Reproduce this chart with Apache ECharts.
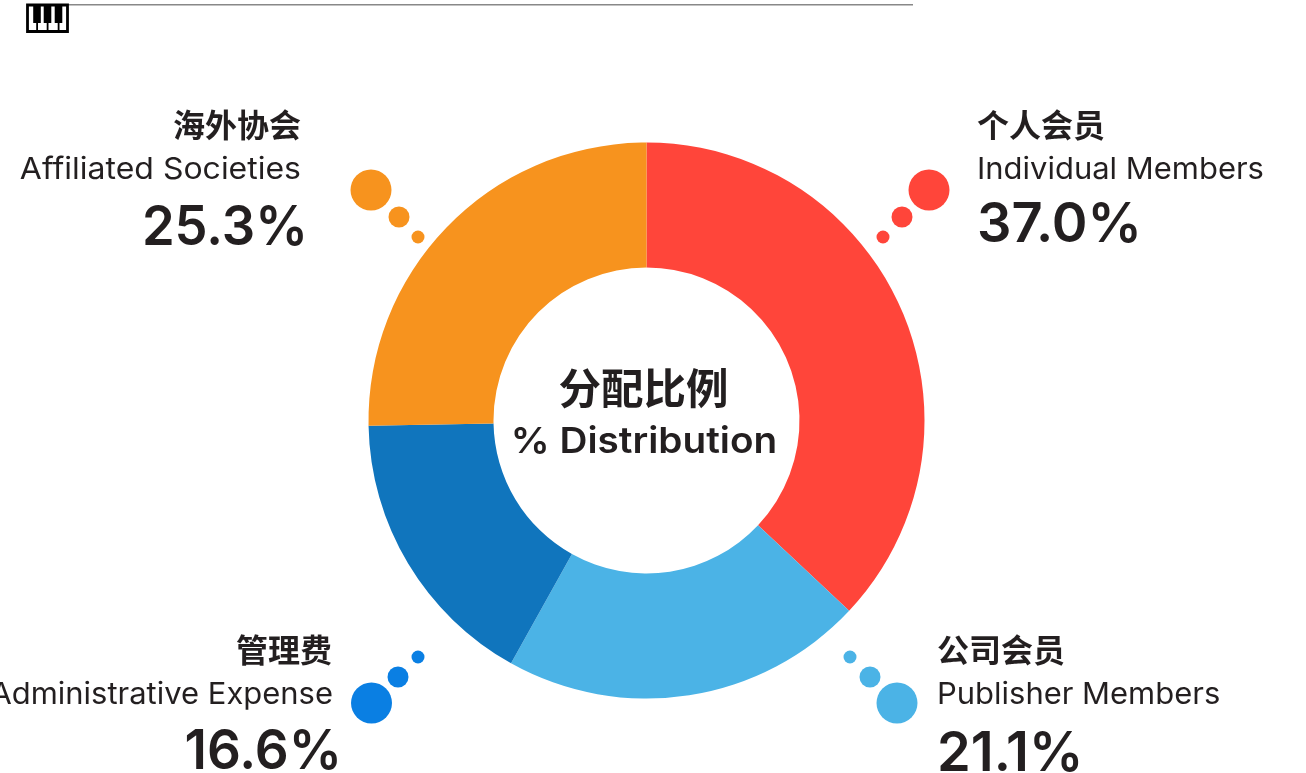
<!DOCTYPE html>
<html><head><meta charset="utf-8">
<style>html,body{margin:0;padding:0;background:#fff}#c{width:1306px;height:773px}</style>
<script src="https://cdn.jsdelivr.net/npm/echarts@6/dist/echarts.min.js"></script>
</head><body><div id="c"></div>
<script>
const namesZh = ['个人会员','公司会员','管理费','海外协会'];
const namesEn = ['Individual Members','Publisher Members','Administrative Expense','Affiliated Societies'];
const shares = [37.0,21.1,16.6,25.3];
const sliceColors = ['#FF453A','#4BB3E6','#1075BD','#F7931E'];
const dotColors = ['#FF453A','#4BB3E6','#0A7FE3','#F7931E'];
const centerZh = '分配比例';
const centerEn = '% Distribution';

const FONT = 'Inter, "Noto Sans CJK SC", sans-serif';
const ZH = '"Noto Sans CJK SC", sans-serif';
const INK = '#231F20';
const blocks = [
  {align:'left', x:[977,977,977], y:[125,170,225], sx:[1.032,0.985]},
  {align:'left', x:[937,937,937], y:[650,695,754], sx:[1.032,0.985]},
  {align:'right',x:[332,333,342], y:[650,695,752], sx:[1.032,0.965]},
  {align:'right',x:[301,301,308], y:[125,170,228], sx:[1.066,0.955]}
];
const dots = [
  [[929,190,20.5],[902,217,10.5],[883,237,6.5]],
  [[897,703,20.5],[870,677,10.5],[850,657,6.5]],
  [[371.5,703,20.5],[398,677,10.5],[418,657,6.5]],
  [[371,190,20.5],[399,217,10.5],[418,237,6.5]]
];
const g = [];
function txt(s,x,y,size,weight,align,family,scaleX){
  g.push({type:'text',silent:true,x,y,scaleX:scaleX||1,style:{text:s,fontSize:size,fontWeight:weight,fontFamily:family,fill:INK,align,verticalAlign:'middle'}});
}
shares.forEach((v,i)=>{
  const b=blocks[i];
  txt(namesZh[i],b.x[0],b.y[0],32,700,b.align,ZH);
  txt(namesEn[i],b.x[1],b.y[1],30,400,b.align,FONT,b.sx[0]);
  txt(v.toFixed(1)+'%',b.x[2],b.y[2],55,600,b.align,FONT,b.sx[1]);
  dots[i].forEach(d=>g.push({type:'circle',silent:true,shape:{cx:d[0],cy:d[1],r:d[2]},style:{fill:dotColors[i]}}));
});
txt(centerZh,643.5,388,42.5,700,'center',ZH);
txt(centerEn,644,442,36,600,'center',FONT,1.075);
// top rule and piano icon
g.push({type:'rect',silent:true,shape:{x:68,y:4,width:845,height:1.5},style:{fill:'#888'}});
g.push({type:'rect',silent:true,shape:{x:27.5,y:5,width:40,height:26.5},style:{fill:'#fff',stroke:'#000',lineWidth:2.8}});
[33.5,44,55].forEach(x=>g.push({type:'rect',silent:true,shape:{x:x-0.3,y:5,width:7.6,height:18},style:{fill:'#000'}}));
[36.2,46.7,57.7].forEach(x=>g.push({type:'rect',silent:true,shape:{x,y:22,width:1.8,height:9},style:{fill:'#000'}}));

const chart = echarts.init(document.getElementById('c'),null,{renderer:'canvas'});
chart.setOption({
  animation:false,
  series:[{type:'pie',silent:true,center:[646.5,420.5],radius:[153,278],startAngle:90,clockwise:true,
    label:{show:false},labelLine:{show:false},itemStyle:{borderWidth:0},
    data:shares.map((v,i)=>({value:v,name:namesEn[i],itemStyle:{color:sliceColors[i]}}))}],
  graphic:{elements:g}
});
</script></body></html>
